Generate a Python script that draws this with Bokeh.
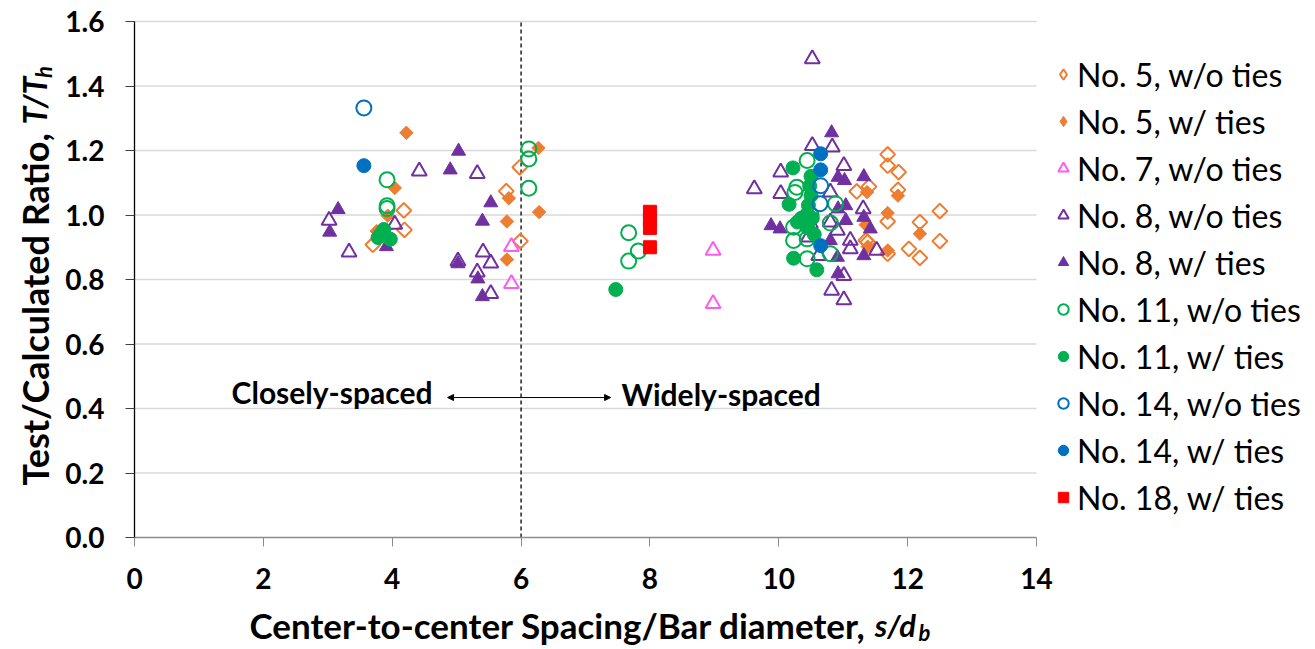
import math
from bokeh.plotting import figure
from bokeh.models import (Range1d, Legend, LegendItem, Label, Arrow, NormalHead,
                          FixedTicker, NumeralTickFormatter)
from bokeh.embed import file_html
from bokeh.resources import INLINE

# ---------------- data ----------------
no5_wo_x = [3.70, 4.18, 4.19, 5.77, 5.98, 5.99,
            11.69, 11.69, 11.86, 11.85, 11.69, 12.50, 12.19, 12.50, 12.02, 12.19,
            11.69, 11.21, 11.40, 11.38, 11.35]
no5_wo_y = [0.908, 1.014, 0.954, 1.074, 1.148, 0.919,
            1.188, 1.153, 1.133, 1.078, 0.980, 1.012, 0.978, 0.919, 0.895, 0.867,
            0.880, 1.073, 1.088, 0.916, 0.921]

no5_w_x = [4.22, 4.04, 3.93, 3.76, 5.81, 5.78, 5.78, 6.27, 6.28,
           11.37, 11.69, 11.85, 12.19, 11.69, 11.38, 11.35]
no5_w_y = [1.255, 1.084, 0.998, 0.950, 1.052, 0.980, 0.862, 1.208, 1.009,
           1.071, 1.006, 1.060, 0.942, 0.890, 0.902, 0.970]

no7_wo_x = [5.85, 5.85, 8.98, 8.98]
no7_wo_y = [0.902, 0.787, 0.890, 0.725]

no8_wo_x = [3.02, 3.33, 4.04, 4.42, 5.32, 5.41, 5.53, 5.32, 5.02, 5.53,
            9.62, 10.03, 10.03, 10.52, 10.52, 10.83, 11.01, 10.80, 11.31, 11.11,
            11.11, 11.52, 11.01, 10.82, 11.01, 10.80, 10.91, 10.49, 10.46, 10.62]
no8_wo_y = [0.983, 0.885, 0.971, 1.136, 1.128, 0.885, 0.851, 0.823, 0.857, 0.756,
            1.081, 1.133, 1.066, 1.484, 1.215, 1.210, 1.153, 1.071, 1.019, 0.921,
            0.895, 0.890, 0.812, 0.766, 0.737, 0.978, 0.952, 0.974, 0.931, 0.874]

no8_w_x = [3.16, 3.03, 3.91, 5.03, 4.90, 5.53, 5.40, 5.02, 5.33, 5.40,
           9.88, 10.02, 10.82, 10.92, 11.02, 11.32, 11.04, 11.42, 11.32, 10.92,
           11.32, 11.04, 10.92, 10.80, 10.91]
no8_w_y = [1.017, 0.947, 0.902, 1.198, 1.140, 1.038, 0.981, 0.849, 0.802, 0.747,
           0.967, 0.957, 1.255, 1.117, 1.107, 1.119, 0.983, 0.957, 0.874, 0.818,
           0.993, 1.029, 1.019, 0.921, 0.869]

no11_wo_x = [3.92, 3.92, 3.92, 6.12, 6.12, 6.12,
             7.67, 7.82, 7.67,
             10.44, 10.28, 10.25, 10.88, 10.80, 10.23, 10.23, 10.44, 10.80, 10.44, 10.50]
no11_wo_y = [1.109, 1.029, 1.020, 1.205, 1.174, 1.083,
             0.945, 0.888, 0.857,
             1.169, 1.086, 1.070, 1.035, 0.975, 0.962, 0.921, 0.926, 0.880, 0.864, 1.000]

no11_w_x = [3.82, 3.97, 3.87, 3.78,
            7.47,
            10.22, 10.16, 10.44, 10.29, 10.23, 10.59, 10.50, 10.48, 10.50, 10.46,
            10.52, 10.45, 10.55, 10.35]
no11_w_y = [0.940, 0.925, 0.955, 0.930,
            0.769,
            1.146, 1.033, 1.003, 0.978, 0.866, 0.830, 1.120, 1.090, 1.060, 1.030,
            0.990, 0.960, 0.940, 0.990]

no14_wo_x = [3.56, 10.65, 10.64]
no14_wo_y = [1.332, 1.091, 1.035]

no14_w_x = [3.56, 10.65, 10.65, 10.65]
no14_w_y = [1.153, 1.190, 1.140, 0.905]

no18_w_x = [8.0, 8.0, 8.0, 8.0]
no18_w_y = [1.010, 0.985, 0.960, 0.900]

x_ticks = [0, 2, 4, 6, 8, 10, 12, 14]
y_ticks = [0.0, 0.2, 0.4, 0.6, 0.8, 1.0, 1.2, 1.4, 1.6]
separator_x = 6

ORANGE = "#ED7D31"
PINK = "#FF5BF0"
PURPLE = "#7030A0"
GREEN = "#00B050"
BLUE = "#0070C0"
RED = "#FF0000"
FONT = "Lato"

# ---------------- layout (pixels) ----------------
W, H = 1315, 649
FL, FT, FW, FH = 134, 21, 902, 516          # plot area inside the canvas
XMIN, XMAX, YMIN, YMAX = 0, 14, 0, 1.6
sx = FW / (XMAX - XMIN)
sy = FH / (YMAX - YMIN)
x_range = Range1d(XMIN - FL / sx, XMIN + (W - FL) / sx)
y_range = Range1d(YMIN - (H - FT - FH) / sy, YMAX + FT / sy)

p = figure(width=W, height=H, min_border=0,
           min_border_left=0, min_border_right=0, min_border_top=0, min_border_bottom=0,
           x_range=x_range, y_range=y_range,
           output_backend="svg", toolbar_location=None, tools="")
p.outline_line_color = None
p.background_fill_color = "white"
p.border_fill_color = "white"
p.xgrid.visible = False
p.ygrid.visible = False

# horizontal gridlines within the plot area
gy = y_ticks[1:]
p.segment(x0=[XMIN] * len(gy), y0=gy, x1=[XMAX] * len(gy), y1=gy,
          line_color="#D9D9D9", line_width=1.3)

p.xaxis.ticker = FixedTicker(ticks=x_ticks)
p.yaxis.ticker = FixedTicker(ticks=y_ticks)
p.yaxis.formatter = NumeralTickFormatter(format="0.0")
p.xaxis.fixed_location = YMIN
p.yaxis.fixed_location = XMIN
p.xaxis.bounds = (XMIN, XMAX)
p.yaxis.bounds = (YMIN, YMAX)
for ax in (p.xaxis[0], p.yaxis[0]):
    ax.major_label_text_font = FONT
    ax.major_label_text_font_style = "bold"
    ax.major_label_text_font_size = "28px"
    ax.major_label_text_color = "black"
    ax.minor_tick_line_color = None
    ax.major_tick_in = 0
    ax.major_tick_out = 9
    ax.axis_line_width = 1.3
p.xaxis.axis_line_color = "#8C8C8C"
p.xaxis.major_tick_line_color = "#8C8C8C"
p.xaxis.major_label_standoff = 21
p.yaxis.axis_line_color = "#000000"
p.yaxis.major_tick_line_color = "#404040"
p.yaxis.major_label_standoff = 21

# dashed separator
p.segment(x0=[separator_x], y0=[YMIN], x1=[separator_x], y1=[YMAX],
          line_color="black", line_dash="4 3", line_width=1.3)

# arrow + texts
p.add_layout(Arrow(start=NormalHead(size=6, fill_color="black", line_color="black"),
                   end=NormalHead(size=6, fill_color="black", line_color="black"),
                   x_start=4.86, y_start=0.434, x_end=7.39, y_end=0.434,
                   line_color="black", line_width=1))
p.add_layout(Label(x=4.625, y=0.450, text="Closely-spaced", text_align="right",
                   text_baseline="middle", text_font=FONT, text_font_style="bold",
                   text_font_size="30px", text_color="black"))
p.add_layout(Label(x=7.56, y=0.444, text="Widely-spaced", text_align="left",
                   text_baseline="middle", text_font=FONT, text_font_style="bold",
                   text_font_size="30px", text_color="black"))

# ---------------- series ----------------
rot = math.pi / 4
r1 = p.scatter(no5_wo_x, no5_wo_y, marker="square", angle=rot,
               size=10.5, fill_color=None, line_color=ORANGE, line_width=2)
r2 = p.scatter(no5_w_x, no5_w_y, marker="square", angle=rot,
               size=9.5, fill_color=ORANGE, line_color=ORANGE, line_width=1)
r3 = p.scatter(no7_wo_x, no7_wo_y, marker="triangle", size=15,
               fill_color=None, line_color=PINK, line_width=2)
r4 = p.scatter(no8_wo_x, no8_wo_y, marker="triangle", size=15,
               fill_color=None, line_color=PURPLE, line_width=2)
r5 = p.scatter(no8_w_x, no8_w_y, marker="triangle", size=14,
               fill_color=PURPLE, line_color=PURPLE, line_width=1)
r6 = p.scatter(no11_wo_x, no11_wo_y, marker="circle", size=15,
               fill_color=None, line_color=GREEN, line_width=2)
r7 = p.scatter(no11_w_x, no11_w_y, marker="circle", size=14,
               fill_color=GREEN, line_color=GREEN, line_width=1)
r8 = p.scatter(no14_wo_x, no14_wo_y, marker="circle", size=15,
               fill_color=None, line_color=BLUE, line_width=2)
r9 = p.scatter(no14_w_x, no14_w_y, marker="circle", size=14,
               fill_color=BLUE, line_color=BLUE, line_width=1)
r10 = p.scatter(no18_w_x, no18_w_y, marker="square", size=13,
                fill_color=RED, line_color=RED, line_width=1)

# legend proxies for the diamond series (legend glyphs are never rotated)
nan = float("nan")
lp1 = p.scatter(x=[nan], y=[nan], marker="diamond", fill_color=None, line_color=ORANGE,
                line_width=2)
lp2 = p.scatter(x=[nan], y=[nan], marker="diamond", fill_color=ORANGE, line_color=ORANGE,
                line_width=1)

labels = ["No. 5, w/o ties", "No. 5, w/ ties", "No. 7, w/o ties", "No. 8, w/o ties",
          "No. 8, w/ ties", "No. 11, w/o ties", "No. 11, w/ ties", "No. 14, w/o ties",
          "No. 14, w/ ties", "No. 18, w/ ties"]
legend_rends = [lp1, lp2, r3, r4, r5, r6, r7, r8, r9, r10]
items = [LegendItem(label=l, renderers=[r]) for l, r in zip(labels, legend_rends)]
LEG_ROW, LEG_GAP, LEG_GW = 40, 7, 26
leg_h = len(labels) * LEG_ROW + (len(labels) - 1) * LEG_GAP
leg_top = 74 - LEG_ROW / 2
legend = Legend(items=items,
                location=(1063 - LEG_GW // 2, int(H - leg_top - leg_h)), padding=0, margin=0,
                spacing=LEG_GAP, label_height=LEG_ROW, glyph_height=LEG_ROW,
                glyph_width=LEG_GW, label_standoff=1,
                label_text_font=FONT, label_text_font_size="32px",
                label_text_color="black", label_text_baseline="middle",
                border_line_color=None, background_fill_alpha=0)
p.add_layout(legend)

# ---------------- axis titles ----------------
xt_y = -0.272
xs = 11.49
p.add_layout(Label(x=xs, y=xt_y, text="Center-to-center Spacing/Bar diameter, ",
                   text_align="right", text_baseline="middle", text_font=FONT,
                   text_font_style="bold", text_font_size="35px", text_color="black"))
p.add_layout(Label(x=xs, y=xt_y, text="s/d", text_align="left",
                   text_baseline="middle", text_font=FONT,
                   text_font_style="bold italic", text_font_size="31px", text_color="black"))
p.add_layout(Label(x=12.17, y=xt_y - 0.024, text="b", text_align="left",
                   text_baseline="middle", text_font=FONT,
                   text_font_style="bold italic", text_font_size="22px", text_color="black"))

yt_x = -1.55
yt_split = 1.281
p.add_layout(Label(x=yt_x, y=yt_split, text="Test/Calculated Ratio, ", angle=math.pi / 2,
                   text_align="right", text_baseline="middle", text_font=FONT,
                   text_font_style="bold", text_font_size="36px", text_color="black"))
p.add_layout(Label(x=yt_x, y=yt_split, text="T/T", angle=math.pi / 2,
                   text_align="left", text_baseline="middle", text_font=FONT,
                   text_font_style="bold italic", text_font_size="32px", text_color="black"))
p.add_layout(Label(x=yt_x + 0.13, y=1.425, text="h", angle=math.pi / 2,
                   text_align="left", text_baseline="middle", text_font=FONT,
                   text_font_style="bold italic", text_font_size="22px", text_color="black"))

open("out.html", "w").write(file_html(p, INLINE))
